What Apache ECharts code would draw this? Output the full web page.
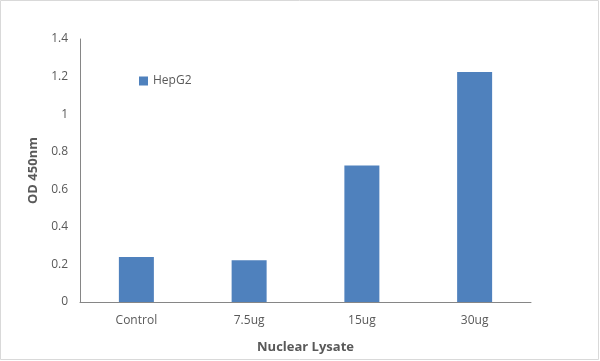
<!DOCTYPE html>
<html><head><meta charset="utf-8">
<script src="https://cdn.jsdelivr.net/npm/echarts@6/dist/echarts.min.js"></script>
<style>html,body{margin:0;padding:0;background:#fff}#c{width:600px;height:361px}</style>
</head><body><div id="c"></div>
<script>
const categories = ['Control', '7.5ug', '15ug', '30ug'];
const seriesName = 'HepG2';
const values = [0.24, 0.222, 0.727, 1.224];
const yTicks = { min: 0, max: 1.4, interval: 0.2 };
const xTitle = 'Nuclear Lysate';
const yTitle = 'OD 450nm';

const chart = echarts.init(document.getElementById('c'), null, { renderer: 'canvas' });
const font = '"Open Sans", "Liberation Sans", sans-serif';
chart.setOption({
  animation: false,
  graphic: [{ type: 'rect', shape: { x: 0.5, y: 0.5, width: 598, height: 359 }, style: { fill: 'none', stroke: '#d9d9d9', lineWidth: 1 }, silent: true }],
  grid: { left: 80, right: 69, top: 39, bottom: 59 },
  legend: {
    data: [seriesName], left: 134, top: 70, itemWidth: 9, itemHeight: 9, itemGap: 5,
    icon: 'rect',
    textStyle: { color: '#595959', fontSize: 12, fontFamily: font }
  },
  xAxis: {
    type: 'category', data: categories,
    axisLine: { lineStyle: { color: '#868686', width: 1 } },
    axisTick: { show: false },
    axisLabel: { color: '#595959', fontSize: 12, fontFamily: font, margin: 13 },
    name: xTitle, nameLocation: 'middle', nameGap: 39,
    nameTextStyle: { color: '#595959', fontSize: 13, fontWeight: 'bold', fontFamily: font }
  },
  yAxis: {
    type: 'value', min: yTicks.min, max: yTicks.max, interval: yTicks.interval,
    axisLine: { show: true, lineStyle: { color: '#868686', width: 1 } },
    axisTick: { show: false },
    splitLine: { show: false },
    axisLabel: { color: '#595959', fontSize: 12, fontFamily: font, margin: 12 },
    name: yTitle, nameLocation: 'middle', nameGap: 40, nameRotate: 90,
    nameTextStyle: { color: '#595959', fontSize: 13, fontWeight: 'bold', fontFamily: font }
  },
  series: [{
    name: seriesName, type: 'bar', data: values, barWidth: 35,
    itemStyle: { color: '#4f81bd' }
  }]
});
</script></body></html>
